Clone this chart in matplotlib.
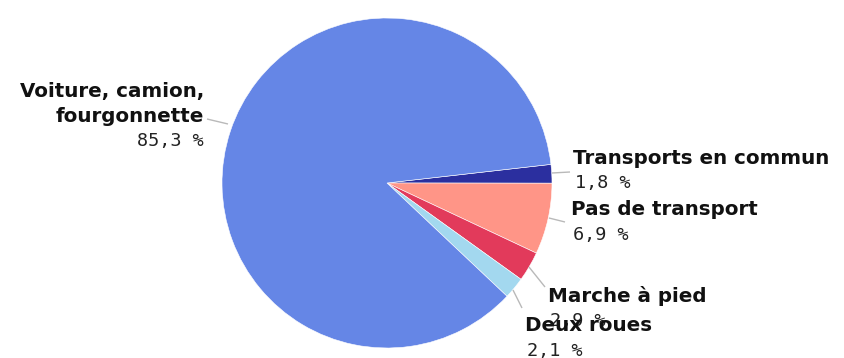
import matplotlib
matplotlib.use("Agg")
import matplotlib.pyplot as plt

# Mode de transport pour se rendre au travail (part en %)
categories = ["Transports en commun", "Pas de transport", "Marche à pied",
              "Deux roues", "Voiture, camion,\nfourgonnette"]
shares = [1.8, 6.9, 2.9, 2.1, 85.3]
value_labels = ["1,8 %", "6,9 %", "2,9 %", "2,1 %", "85,3 %"]
colors = ["#2B2F9F", "#FF9587", "#E23A5B", "#A3D8EF", "#6586E6"]

W, H = 844, 358
fig = plt.figure(figsize=(W / 100, H / 100), dpi=100)
ax = fig.add_axes([0, 0, 1, 1])
ax.set_aspect("equal")
ax.axis("off")

cx, cy, r = 387, H - 183, 165
wedges, _ = ax.pie(shares, colors=colors, startangle=shares[0] * 3.6,
                   counterclock=False, center=(cx, cy), radius=r,
                   wedgeprops=dict(edgecolor="white", linewidth=0.4))
ax.set_xlim(0, W)
ax.set_ylim(0, H)

# label anchors (x, first baseline from the top), alignment, leader line
label_pos = [
    (573, 164, "left", [(552, 173), (570, 172)]),
    (571, 215, "left", [(549, 218), (565, 222)]),
    (548, 302, "left", [(529, 267), (545, 287)]),
    (525, 331, "left", [(513, 290), (522, 308)]),
    (204, 97, "right", [(228, 124), (207, 119)]),
]
line_step = 24.5

for name, val, (x, y, ha, line) in zip(categories, value_labels, label_pos):
    lx = [p[0] for p in line]
    ly = [H - p[1] for p in line]
    ax.plot(lx, ly, color="#b9b9b9", lw=1, solid_capstyle="butt")
    rows = name.split("\n")
    for i, row in enumerate(rows):
        ax.text(x, H - (y + i * line_step), row, ha=ha, va="baseline",
                fontsize=14.3, fontweight="bold", family="DejaVu Sans",
                color="#111111")
    vy = y + len(rows) * line_step
    ax.text(x + (2 if ha == "left" else 0), H - vy, val, ha=ha,
            va="baseline", fontsize=13.3, family="DejaVu Sans Mono",
            color="#222222")

fig.savefig("out.png", dpi=100)
